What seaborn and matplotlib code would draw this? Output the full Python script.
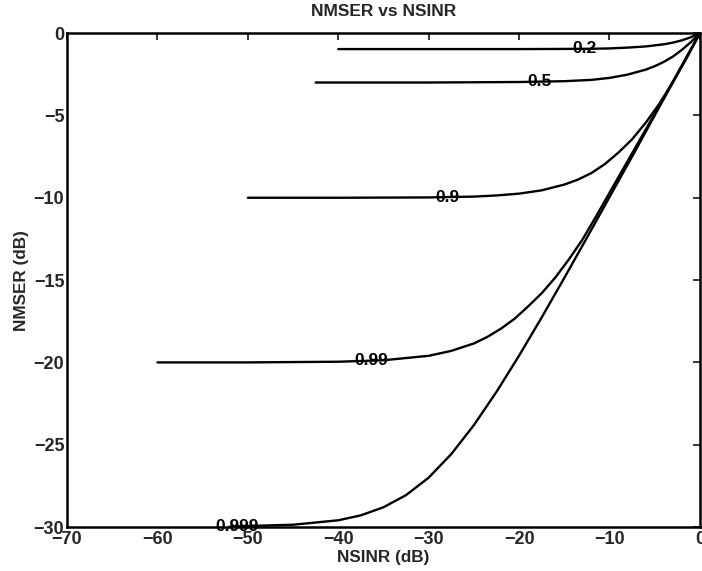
import matplotlib
matplotlib.use("Agg")
import matplotlib.pyplot as plt
import seaborn as sns
import pandas as pd

# NMSER (dB) against NSINR (dB) for several correlation values rho
rho_labels = ["0.2", "0.5", "0.9", "0.99", "0.999"]

nsinr_02 = [-40, -30, -20, -15, -12, -10, -8, -6, -4, -3, -2, -1, 0]
nmser_02 = [-0.97, -0.97, -0.97, -0.96, -0.95, -0.93, -0.88, -0.81, -0.68, -0.58, -0.44, -0.25, 0]

nsinr_05 = [-42.5, -30, -20, -15, -12, -10, -8, -6, -5, -4, -3, -2, -1, 0]
nmser_05 = [-3.0, -3.0, -2.97, -2.92, -2.84, -2.72, -2.52, -2.22, -2.01, -1.75, -1.43, -1.02, -0.55, 0]

nsinr_09 = [-50, -40, -30, -25, -22.5, -20, -17.5, -15, -13.5, -12, -10.5, -9, -7.5, -6, -4.5, -3, -1.5, 0]
nmser_09 = [-10.0, -10.0, -9.98, -9.93, -9.86, -9.75, -9.55, -9.2, -8.9, -8.5, -7.95, -7.25, -6.45, -5.45, -4.3, -3.0, -1.55, 0]

nsinr_099 = [-60, -50, -40, -35, -30, -27.5, -25, -23.5, -22, -20.5, -19, -17.5, -16, -14.5, -13, -11.5, -10, -7.5, -5, -2.5, 0]
nmser_099 = [-20.0, -20.0, -19.96, -19.87, -19.6, -19.3, -18.85, -18.45, -17.95, -17.35, -16.6, -15.8, -14.85, -13.75, -12.55, -11.15, -9.7, -7.3, -4.9, -2.46, 0]

nsinr_0999 = [-52, -45, -40, -37.5, -35, -32.5, -30, -27.5, -25, -22.5, -20, -17.5, -15, -12.5, -10, -7.5, -5, -2.5, 0]
nmser_0999 = [-29.97, -29.86, -29.59, -29.29, -28.8, -28.06, -27.0, -25.57, -23.81, -21.79, -19.59, -17.27, -14.87, -12.43, -9.96, -7.5, -5.0, -2.5, 0]

# inline curve labels: position along NSINR axis
label_x = [-12.8, -17.7, -27.9, -36.3, -51.2]

x_ticks = [-70, -60, -50, -40, -30, -20, -10, 0]
y_ticks = [-30, -25, -20, -15, -10, -5, 0]

curves = [
    (nsinr_02, nmser_02),
    (nsinr_05, nmser_05),
    (nsinr_09, nmser_09),
    (nsinr_099, nmser_099),
    (nsinr_0999, nmser_0999),
]

frames = []
for lab, (xs, ys) in zip(rho_labels, curves):
    frames.append(pd.DataFrame({"NSINR": xs, "NMSER": ys, "rho": lab}))
df = pd.concat(frames, ignore_index=True)

sns.set_style("white")
plt.rcParams["font.family"] = ["Liberation Sans", "DejaVu Sans"]
plt.rcParams["font.weight"] = "bold"
plt.rcParams["axes.unicode_minus"] = True

fig = plt.figure(figsize=(7.02, 5.71), dpi=100)
ax = fig.add_axes([0.0955, 0.077, 0.9015, 0.865])

sns.lineplot(
    data=df, x="NSINR", y="NMSER", hue="rho", units="rho", estimator=None,
    palette=["black"] * len(rho_labels), linewidth=1.7, legend=False,
    sort=False, ax=ax, clip_on=False,
)

# curve labels drawn on top of each line
for lab, (xs, ys), lx in zip(rho_labels, curves, label_x):
    ly = pd.Series(ys, index=xs).reindex(sorted(set(xs) | {lx})).interpolate(method="index")[lx]
    ax.text(lx, ly, lab, ha="center", va="center", fontsize=12.5,
            fontweight="bold", color="black", zorder=5)

ax.set_xlim(-70, 0)
ax.set_ylim(-30, 0)
ax.set_xticks(x_ticks)
ax.set_yticks(y_ticks)
ax.tick_params(axis="both", direction="in", length=5, width=1.3,
               top=True, right=True, labelsize=13)
ax.tick_params(axis="x", pad=3)
ax.tick_params(axis="y", pad=2)
for t in ax.get_xticklabels() + ax.get_yticklabels():
    t.set_fontweight("bold")
for s in ax.spines.values():
    s.set_color("black")
    s.set_linewidth(1.8)

ax.set_xlabel("NSINR (dB)", fontsize=12.3, fontweight="bold", labelpad=1)
ax.set_ylabel("NMSER (dB)", fontsize=12.3, fontweight="bold", labelpad=3)
ax.set_title("NMSER vs NSINR", fontsize=12.5, fontweight="bold", pad=12)

fig.savefig("out.png", dpi=100)
